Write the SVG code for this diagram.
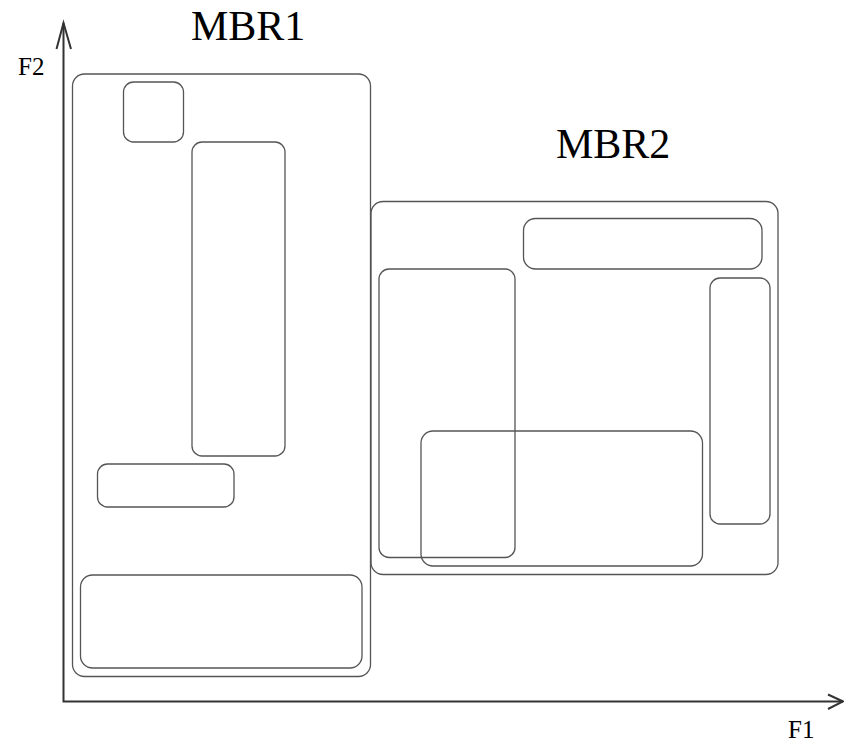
<svg xmlns="http://www.w3.org/2000/svg" width="844" height="745" viewBox="0 0 844 745">
<style>
.box{fill:none;stroke:#555;stroke-width:1.3}
.axis{fill:none;stroke:#333;stroke-width:2}
.lbl{font-family:"Liberation Serif","Times New Roman",serif;fill:#000}
</style>
<rect width="844" height="745" fill="#fff"/>
<g id="connectors">
<polyline class="axis" points="63.5,23 63.5,701.5 843,701.5"/>
<polyline class="axis" points="56.5,49 63.5,23 71,49"/>
<polyline class="axis" points="828,694.5 843,701.5 828,709"/>
</g>
<g id="labels">
<text class="lbl" x="18" y="75" font-size="25">F2</text>
<text class="lbl" x="788" y="738" font-size="25">F1</text>
<text class="lbl" x="191" y="40" font-size="42">MBR1</text>
<text class="lbl" x="556" y="158" font-size="42">MBR2</text>
</g>
<g id="mbr1"><rect class="box" x="72.5" y="74" width="298" height="602.5" rx="12"/></g>
<g id="r1"><rect class="box" x="123.5" y="82" width="60" height="60" rx="10"/></g>
<g id="r2"><rect class="box" x="192" y="142" width="93" height="314" rx="10"/></g>
<g id="r3"><rect class="box" x="97.5" y="464" width="136.5" height="43" rx="10"/></g>
<g id="r4"><rect class="box" x="80.5" y="575" width="281.5" height="93" rx="12"/></g>
<g id="mbr2"><rect class="box" x="371" y="201.5" width="407" height="373" rx="12"/></g>
<g id="r5"><rect class="box" x="523.5" y="218.5" width="238.5" height="50.5" rx="12"/></g>
<g id="r6"><rect class="box" x="379" y="269" width="136" height="288.5" rx="10"/></g>
<g id="r7"><rect class="box" x="710" y="278" width="60" height="246" rx="10"/></g>
<g id="r8"><rect class="box" x="421" y="431" width="281.5" height="135" rx="12"/></g>
</svg>
